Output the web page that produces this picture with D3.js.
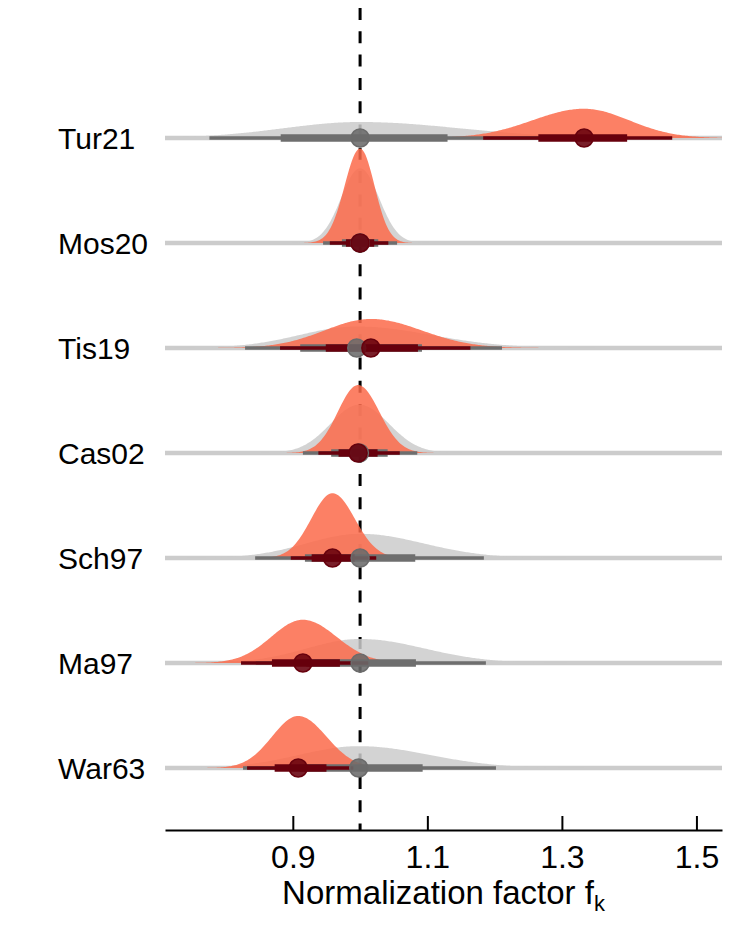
<!DOCTYPE html>
<html>
<head>
<meta charset="utf-8">
<script src="https://cdn.jsdelivr.net/npm/d3@7"></script>
<style>
body { margin: 0; background: #fff; }
text { font-family: "Liberation Sans", Arial, Helvetica, sans-serif; fill: #000; }
</style>
</head>
<body>
<svg id="chart" width="747" height="947"></svg>
<script>
// Data
const studies = ['Tur21', 'Mos20', 'Tis19', 'Cas02', 'Sch97', 'Ma97', 'War63']
// grey model: median, 66% and 95% intervals
const greyMed = [1.000, 1.000, 0.995, 0.999, 1.000, 1.000, 0.998]
const grey66 = [[0.882, 1.130], [0.973, 1.027], [0.911, 1.092], [0.957, 1.041], [0.918, 1.082], [0.920, 1.083], [0.910, 1.093]]
const grey95 = [[0.776, 1.290], [0.945, 1.055], [0.829, 1.211], [0.915, 1.085], [0.844, 1.184], [0.845, 1.187], [0.826, 1.202]]
// red model
const redMed = [1.333, 1.000, 1.016, 0.997, 0.959, 0.915, 0.908]
const red66 = [[1.265, 1.397], [0.979, 1.021], [0.949, 1.086], [0.968, 1.026], [0.928, 0.992], [0.869, 0.970], [0.873, 0.950]]
const red95 = [[1.183, 1.464], [0.955, 1.042], [0.881, 1.164], [0.938, 1.059], [0.897, 1.024], [0.823, 1.013], [0.832, 0.990]]
const xTicks = [0.9, 1.1, 1.3, 1.5]
const refValue = 1.0

// Helpers
const z95 = 1.96
// split normal density from median and 95% interval
function splitNormal(med, lo, hi) {
    const sl = (med - lo) / z95, sr = (hi - med) / z95
    const k = 2 / (Math.sqrt(2 * Math.PI) * (sl + sr))
    const f = x => { let s = x < med ? sl : sr; return k * Math.exp(-0.5 * ((x - med) / s) ** 2) }
    f.peak = k
    return f
}
const build = (meds, i66, i95, model) => studies.map((s, i) => ({
    study: s, model: model, med: meds[i], i66: i66[i], i95: i95[i],
    dens: splitNormal(meds[i], i95[i][0], i95[i][1])
}))
const grey = build(greyMed, grey66, grey95, 'grey')
const red = build(redMed, red66, red95, 'red')

const svg = d3.select('#chart')
const x = d3.scaleLinear().domain([0.71, 1.538]).range([165, 722])
const y = d3.scalePoint().domain(studies).range([138, 768])
const rowH = (y.range()[1] - y.range()[0]) / (studies.length - 1)
const maxDens = d3.max(grey.concat(red), d => d.dens.peak)
const h = d3.scaleLinear().domain([0, maxDens]).range([0, rowH * 0.9])
const axisY = 830
const grid = d3.range(x.domain()[0], x.domain()[1] + 0.0005, 0.002)

/* Reference line */
svg.append('line')
    .attr('x1', x(refValue)).attr('x2', x(refValue))
    .attr('y1', 8).attr('y2', axisY)
    .attr('stroke', '#000').attr('stroke-width', 3)
    .attr('stroke-dasharray', '12,11.3')

/* Baselines */
svg.selectAll('.base').data(studies).enter()
    .append('line')
    .attr('x1', x.range()[0]).attr('x2', x.range()[1])
    .attr('y1', d => y(d)).attr('y2', d => y(d))
    .attr('stroke', '#cccccc').attr('stroke-width', 4.5)

/* Slabs */
const slab = d => d3.area()
    .x(v => x(v))
    .y0(y(d.study))
    .y1(v => y(d.study) - h(d.dens(v)))(grid)

svg.selectAll('.slab-grey').data(grey).enter()
    .append('path')
    .attr('d', slab)
    .attr('fill', '#cbcbcb').attr('fill-opacity', 0.85)

svg.selectAll('.slab-red').data(red).enter()
    .append('path')
    .attr('d', slab)
    .attr('fill', '#fb6a4a').attr('fill-opacity', 0.85)

/* Intervals */
function intervals(data, col) {
    const g = svg.append('g')
    g.selectAll('.thin').data(data).enter()
        .append('line')
        .attr('x1', d => x(d.i95[0])).attr('x2', d => x(d.i95[1]))
        .attr('y1', d => y(d.study)).attr('y2', d => y(d.study))
        .attr('stroke', col).attr('stroke-width', 3.3)
    g.selectAll('.thick').data(data).enter()
        .append('line')
        .attr('x1', d => x(d.i66[0])).attr('x2', d => x(d.i66[1]))
        .attr('y1', d => y(d.study)).attr('y2', d => y(d.study))
        .attr('stroke', col).attr('stroke-width', 7.5)
}
intervals(grey, '#6e6e6e')
intervals(red, '#67000d')

/* Points */
function points(data, col) {
    svg.append('g').selectAll('circle').data(data).enter()
        .append('circle')
        .attr('cx', d => x(d.med)).attr('cy', d => y(d.study)).attr('r', 9)
        .attr('fill', col).attr('fill-opacity', 0.88)
        .attr('stroke', col).attr('stroke-width', 1.5)
}
points(grey, '#6b6b6b')
points(red, '#67000d')

/* Study labels */
svg.selectAll('.lbl').data(studies).enter()
    .append('text')
    .attr('x', 58).attr('y', d => y(d)).attr('dy', '0.36em')
    .attr('font-size', 30)
    .text(d => d)

/* X axis */
const ax = svg.append('g')
    .attr('transform', `translate(0,${axisY})`)
    .call(d3.axisBottom(x).tickValues(xTicks).tickFormat(d3.format('.1f'))
        .tickSizeInner(-14).tickSizeOuter(0).tickPadding(15))
ax.select('.domain').attr('stroke-width', 2)
ax.selectAll('.tick line').attr('stroke-width', 2)
ax.selectAll('.tick text').attr('font-size', 32)
    .attr('font-family', '"Liberation Sans", Arial, Helvetica, sans-serif')

const title = svg.append('text')
    .attr('x', (x.range()[0] + x.range()[1]) / 2).attr('y', 904)
    .attr('text-anchor', 'middle').attr('font-size', 33)
title.append('tspan').text('Normalization factor f')
title.append('tspan').attr('font-size', 22).attr('dy', 7).text('k')
</script>
</body>
</html>
